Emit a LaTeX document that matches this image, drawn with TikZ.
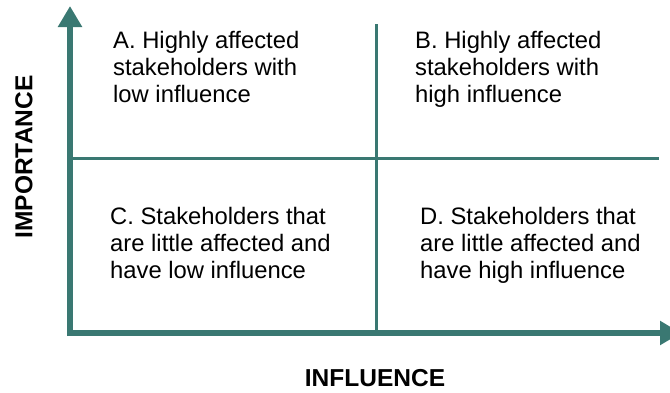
\documentclass[tikz,border=0pt]{standalone}
\usepackage{fontspec}
\setmainfont{Liberation Sans}
\usetikzlibrary{arrows.meta}
\definecolor{axisteal}{RGB}{58,120,114}
\tikzset{
  axis/.style={draw=axisteal, line width=6pt, -{Triangle[width=23pt,length=21pt]}},
  divider/.style={draw=axisteal, line width=3pt},
  quad/.style={anchor=base west, align=left, inner sep=0pt, font=\fontsize{23.8pt}{27pt}\selectfont},
  axlabel/.style={inner sep=0pt, font=\fontsize{24.5pt}{27pt}\selectfont\bfseries}
}
\begin{document}
\begin{tikzpicture}[x=1pt,y=-1pt]
\useasboundingbox (0,0) rectangle (670,392);
\coordinate (origin) at (70,333);
\coordinate (ytip) at (70,6);
\coordinate (xtip) at (681,333);
\coordinate (vtop) at (376,24);
\coordinate (vbot) at (376,333);
\coordinate (hleft) at (70,158);
\coordinate (hright) at (659,158);
\draw[divider] (vtop) -- (vbot);
\draw[divider] (hleft) -- (hright);
\draw[axis] ([yshift=-3pt]origin) -- (ytip);
\draw[axis] ([xshift=-3pt]origin) -- (xtip);
\node[quad] (qa) at (113,102) {A. Highly affected\\stakeholders with\\low influence};
\node[quad] (qb) at (415,102) {B. Highly affected\\stakeholders with\\high influence};
\node[quad] (qc) at (110,278) {C. Stakeholders that\\are little affected and\\have low influence};
\node[quad] (qd) at (420,278) {D. Stakeholders that\\are little affected and\\have high influence};
\node[axlabel, rotate=90] (imp) at (24,157) {IMPORTANCE};
\node[axlabel] (inf) at (375,378) {INFLUENCE};
\end{tikzpicture}
\end{document}
